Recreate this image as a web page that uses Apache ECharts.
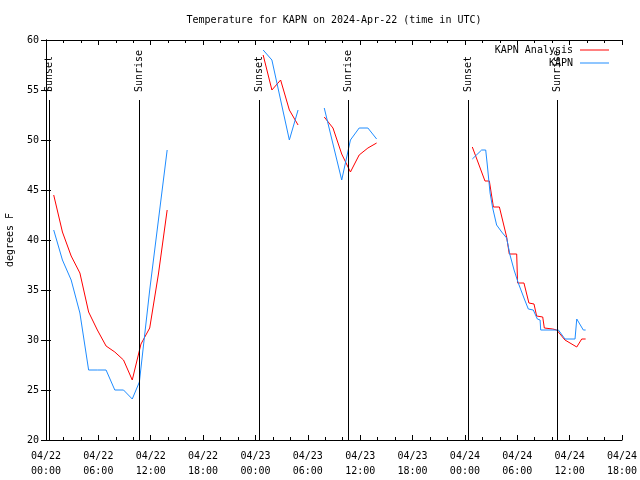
<!DOCTYPE html>
<html><head><meta charset="utf-8">
<script src="https://cdn.jsdelivr.net/npm/echarts/dist/echarts.min.js"></script>
<style>html,body{margin:0;padding:0;background:#fff}#c{width:640px;height:480px}</style>
</head><body><div id="c"></div>
<script>
const FONT = '"DejaVu Sans Mono", "Liberation Mono", monospace';

const titleText = 'Temperature for KAPN on 2024-Apr-22 (time in UTC)';
const xTickLabels = ['04/22\n00:00','04/22\n06:00','04/22\n12:00','04/22\n18:00',
  '04/23\n00:00','04/23\n06:00','04/23\n12:00','04/23\n18:00',
  '04/24\n00:00','04/24\n06:00','04/24\n12:00','04/24\n18:00'];
const yTicks = [20,25,30,35,40,45,50,55,60];

const sunTimes  = ['04/22 00:23','04/22 10:39','04/23 00:25','04/23 10:37','04/24 00:26','04/24 10:35'];
const sunLabels = ['Sunset','Sunrise','Sunset','Sunrise','Sunset','Sunrise'];

// KAPN Analysis (red); null marks a gap
const analysisTimes = [
 '04/22 00:53','04/22 01:53','04/22 02:53','04/22 03:53','04/22 04:53','04/22 05:53','04/22 06:53',
 '04/22 07:53','04/22 08:53','04/22 09:53','04/22 10:53','04/22 11:53','04/22 12:53','04/22 13:53',
 '04/22 18:00',
 '04/23 00:53','04/23 01:53','04/23 02:53','04/23 03:53','04/23 04:53',
 '04/23 06:00',
 '04/23 07:53','04/23 08:53','04/23 09:53','04/23 10:53','04/23 11:53','04/23 12:53','04/23 13:53',
 '04/23 18:00',
 '04/24 00:51','04/24 02:18','04/24 02:48','04/24 03:16','04/24 03:57','04/24 04:47','04/24 05:05',
 '04/24 05:56','04/24 06:02','04/24 06:46','04/24 07:20','04/24 07:55','04/24 08:13','04/24 08:55',
 '04/24 09:06','04/24 10:04','04/24 10:31','04/24 11:28','04/24 12:49','04/24 13:23','04/24 13:50'];
const analysisTemps = [
 44.5,40.8,38.4,36.7,32.8,31.0,29.4,28.8,28.0,26.0,29.6,31.2,36.6,43.0,
 null,
 58.5,55.0,56.0,53.0,51.5,
 null,
 52.3,51.2,48.6,46.8,48.5,49.2,49.7,
 null,
 49.3,45.9,45.9,43.3,43.3,40.3,38.6,38.6,35.7,35.7,33.7,33.6,32.4,32.3,
 31.2,31.1,31.0,30.0,29.3,30.1,30.1];

// KAPN observations (blue)
const obsTimes = [
 '04/22 00:53','04/22 01:53','04/22 02:53','04/22 03:53','04/22 04:53','04/22 05:53','04/22 06:53',
 '04/22 07:53','04/22 08:53','04/22 09:53','04/22 10:42','04/22 11:53','04/22 12:53','04/22 13:53',
 '04/22 18:00',
 '04/23 00:53','04/23 01:53','04/23 02:53','04/23 03:53','04/23 04:53',
 '04/23 06:00',
 '04/23 07:53','04/23 08:53','04/23 09:53','04/23 10:53','04/23 11:53','04/23 12:53','04/23 13:53',
 '04/23 18:00',
 '04/24 00:51','04/24 01:55','04/24 02:23','04/24 02:34','04/24 02:53','04/24 03:11','04/24 03:38',
 '04/24 04:13','04/24 04:47','04/24 05:10','04/24 05:38','04/24 06:07','04/24 06:46','04/24 07:16',
 '04/24 07:50','04/24 08:18','04/24 08:37','04/24 08:41','04/24 10:43','04/24 11:28','04/24 12:37',
 '04/24 12:49','04/24 13:34','04/24 13:50'];
const obsTemps = [
 41.0,38.0,36.0,32.7,27.0,27.0,27.0,25.0,25.0,24.1,25.8,35.0,42.0,49.0,
 null,
 59.0,58.0,54.0,50.0,53.0,
 null,
 53.2,49.6,46.0,50.0,51.2,51.2,50.1,
 null,
 48.1,49.0,49.0,47.5,44.7,43.2,41.5,40.8,40.2,38.5,37.0,35.7,34.2,33.1,
 33.0,32.1,32.0,31.0,31.0,30.1,30.1,32.1,31.0,31.0];

function toHours(s) {
  const [md, hm] = s.split(' ');
  const day = parseInt(md.split('/')[1], 10);
  const [h, m] = hm.split(':').map(Number);
  return (day - 22) * 24 + h + m / 60;
}
const pairs = (ts, vs) => ts.map((t, i) => [toHours(t), vs[i]]);

const sunData = sunTimes.map((t, i) => ({ value: [toHours(t), 54.8], name: sunLabels[i] }));
const sunLines = sunTimes.map(t => [{ coord: [toHours(t), 20] }, { coord: [toHours(t), 54] }]);

const axisCommon = {
  type: 'value', min: 0, max: 66, interval: 6,
  axisLine: { show: true, lineStyle: { color: '#000', width: 1 } },
  axisTick: { show: true, inside: true, length: 5, lineStyle: { color: '#000' } },
  minorTick: { show: true, splitNumber: 3, length: 3, lineStyle: { color: '#000' } },
  splitLine: { show: false }
};
const yCommon = {
  type: 'value', min: 20, max: 60, interval: 5,
  axisLine: { show: true, lineStyle: { color: '#000', width: 1 } },
  axisTick: { show: true, inside: true, length: 5, lineStyle: { color: '#000' } },
  splitLine: { show: false }
};
const LEGEND_LINE = 'path://M0,0H29V1H0Z';

const chart = echarts.init(document.getElementById('c'), null, { renderer: 'canvas' });
chart.setOption({
  animation: false,
  backgroundColor: '#fff',
  title: {
    text: titleText, left: 329, top: 10, textAlign: 'center',
    textStyle: { fontFamily: FONT, fontSize: 10, fontWeight: 'normal', color: '#000' }
  },
  legend: {
    data: [{ name: 'KAPN Analysis', icon: LEGEND_LINE }, { name: 'KAPN', icon: LEGEND_LINE }],
    orient: 'vertical', right: 26, top: 40, align: 'right',
    itemWidth: 29, itemHeight: 10, itemGap: 3, symbolKeepAspect: true,
    textStyle: { fontFamily: FONT, fontSize: 10, color: '#000', padding: [0, 2, 0, 0] }
  },
  grid: { left: 46, right: 18, top: 40, bottom: 40, containLabel: false, outerBoundsMode: 'none' },
  xAxis: [
    Object.assign({}, axisCommon, {
      position: 'bottom',
      axisLabel: {
        fontFamily: FONT, fontSize: 10, color: '#000', margin: 9, lineHeight: 15,
        formatter: v => xTickLabels[Math.round(v / 6)]
      }
    }),
    Object.assign({}, axisCommon, { position: 'top', axisLabel: { show: false } })
  ],
  yAxis: [
    Object.assign({}, yCommon, {
      position: 'left',
      name: 'degrees F', nameLocation: 'middle', nameGap: 31, nameRotate: 90,
      nameTextStyle: { fontFamily: FONT, fontSize: 10, color: '#000' },
      axisLabel: { fontFamily: FONT, fontSize: 10, color: '#000', margin: 7 }
    }),
    Object.assign({}, yCommon, { position: 'right', axisLabel: { show: false } })
  ],
  series: [
    {
      name: 'sun', type: 'scatter', xAxisIndex: 0, yAxisIndex: 0,
      data: sunData, symbolSize: 1, itemStyle: { color: 'rgba(0,0,0,0)' }, silent: true,
      label: {
        show: true, position: 'inside', rotate: 90, align: 'left', verticalAlign: 'middle',
        offset: [0, 1],
        formatter: p => p.name, fontFamily: FONT, fontSize: 10, color: '#000', opacity: 1
      },
      labelLayout: { hideOverlap: false },
      markLine: {
        silent: true, symbol: ['none', 'none'], animation: false,
        label: { show: false },
        lineStyle: { color: '#000', width: 1, type: 'solid' },
        data: sunLines
      }
    },
    {
      name: 'KAPN Analysis', type: 'line', xAxisIndex: 0, yAxisIndex: 0,
      data: pairs(analysisTimes, analysisTemps), showSymbol: false, symbol: 'none',
      connectNulls: false, color: '#ff0000', lineStyle: { color: '#ff0000', width: 1 }
    },
    {
      name: 'KAPN', type: 'line', xAxisIndex: 0, yAxisIndex: 0,
      data: pairs(obsTimes, obsTemps), showSymbol: false, symbol: 'none',
      connectNulls: false, color: '#1e8cff', lineStyle: { color: '#1e8cff', width: 1 }
    }
  ]
});
</script></body></html>
